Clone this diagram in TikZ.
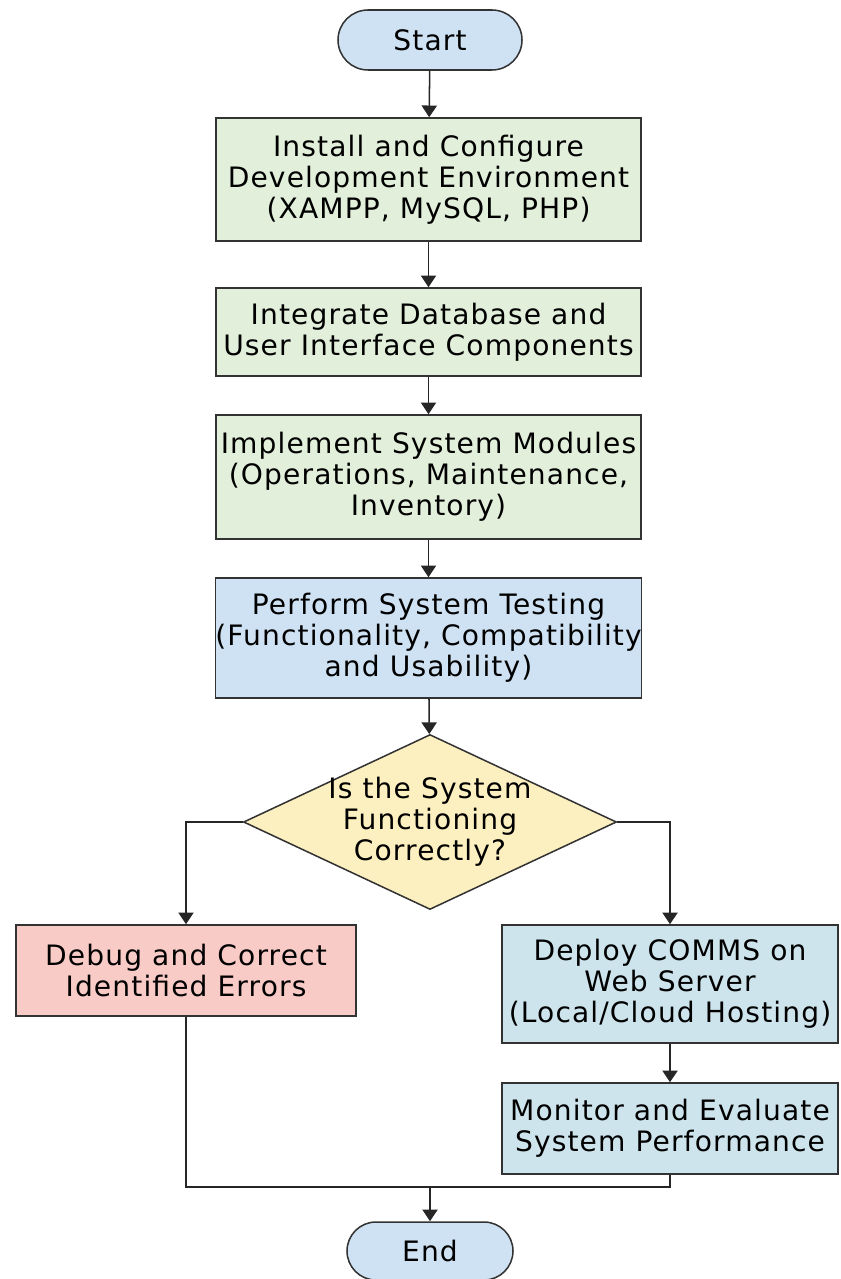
\documentclass[tikz,border=0pt]{standalone}
\usepackage{fontspec}
\setmainfont{DejaVu Sans}[LetterSpace=4]
\usetikzlibrary{shapes.geometric,shapes.misc,arrows.meta}
\definecolor{termfill}{HTML}{CFE2F3}
\definecolor{stepfill}{HTML}{E2EFDA}
\definecolor{testfill}{HTML}{CFE2F3}
\definecolor{askfill}{HTML}{FDF0C0}
\definecolor{errfill}{HTML}{F8CBC6}
\definecolor{runfill}{HTML}{CDE4EC}
\tikzset{
  base/.style={draw=black!80, line width=1.3pt, align=center, inner sep=0pt,
    font=\fontsize{24}{26.5}\selectfont},
  term/.style={base, rounded rectangle, fill=termfill},
  stepbox/.style={base, rectangle, fill=stepfill, minimum width=12.75cm},
  testbox/.style={base, rectangle, fill=testfill, minimum width=12.75cm},
  askbox/.style={base, diamond, fill=askfill, aspect=2.13, inner sep=-4pt},
  errbox/.style={base, rectangle, fill=errfill},
  runbox/.style={base, rectangle, fill=runfill},
  flow/.style={draw=black!85, line width=1.3pt, -{Triangle[length=10pt,width=13pt]}},
  wire/.style={draw=black!85, line width=1.3pt}
}
\begin{document}
\begin{tikzpicture}
    \useasboundingbox (0,0) rectangle (25.2,-38.37);
    % start and main steps
    \node [term, minimum width=5.52cm, minimum height=1.8cm] (start) at (12.9,-1.2) {Start};
    \node [stepbox, minimum height=3.69cm] (install) at (12.855,-5.385) {Install and Configure\\Development Environment\\(XAMPP, MySQL, PHP)};
    \node [stepbox, minimum height=2.64cm] (integrate) at (12.855,-9.96) {Integrate Database and\\User Interface Components};
    \node [stepbox, minimum height=3.72cm] (modules) at (12.855,-14.31) {Implement System Modules\\(Operations, Maintenance,\\Inventory)};
    \node [testbox, minimum height=3.6cm] (testing) at (12.855,-19.14) {Perform System Testing\\(Functionality, Compatibility\\and Usability)};
    % decision
    \node [askbox, minimum width=11.19cm, minimum height=5.25cm] (check) at (12.9,-24.66) {Is the System\\Functioning\\Correctly?};
    % branches
    \node [errbox, minimum width=10.2cm, minimum height=2.73cm] (debug) at (5.58,-29.115) {Debug and Correct\\Identified Errors};
    \node [runbox, minimum width=10.08cm, minimum height=3.54cm] (deploy) at (20.1,-29.52) {Deploy COMMS on\\Web Server\\(Local/Cloud Hosting)};
    \node [runbox, minimum width=10.08cm, minimum height=2.73cm] (monitor) at (20.1,-33.855) {Monitor and Evaluate\\System Performance};
    % end
    \node [term, minimum width=4.98cm, minimum height=1.74cm] (finish) at (12.9,-37.53) {End};
    \coordinate (join) at (12.9,-35.61);

    % arrows
    \draw [flow] (start) -- (install);
    \draw [flow] (install) -- (integrate);
    \draw [flow] (integrate) -- (modules);
    \draw [flow] (modules) -- (testing);
    \draw [flow] (testing) -- (check);
    \draw [flow] (check.west) -| (debug.north);
    \draw [flow] (check.east) -| (deploy.north);
    \draw [flow] (deploy) -- (monitor);
    \draw [wire] (debug.south) |- (join) -| (monitor.south);
    \draw [flow] (join) -- (finish);
\end{tikzpicture}
\end{document}
